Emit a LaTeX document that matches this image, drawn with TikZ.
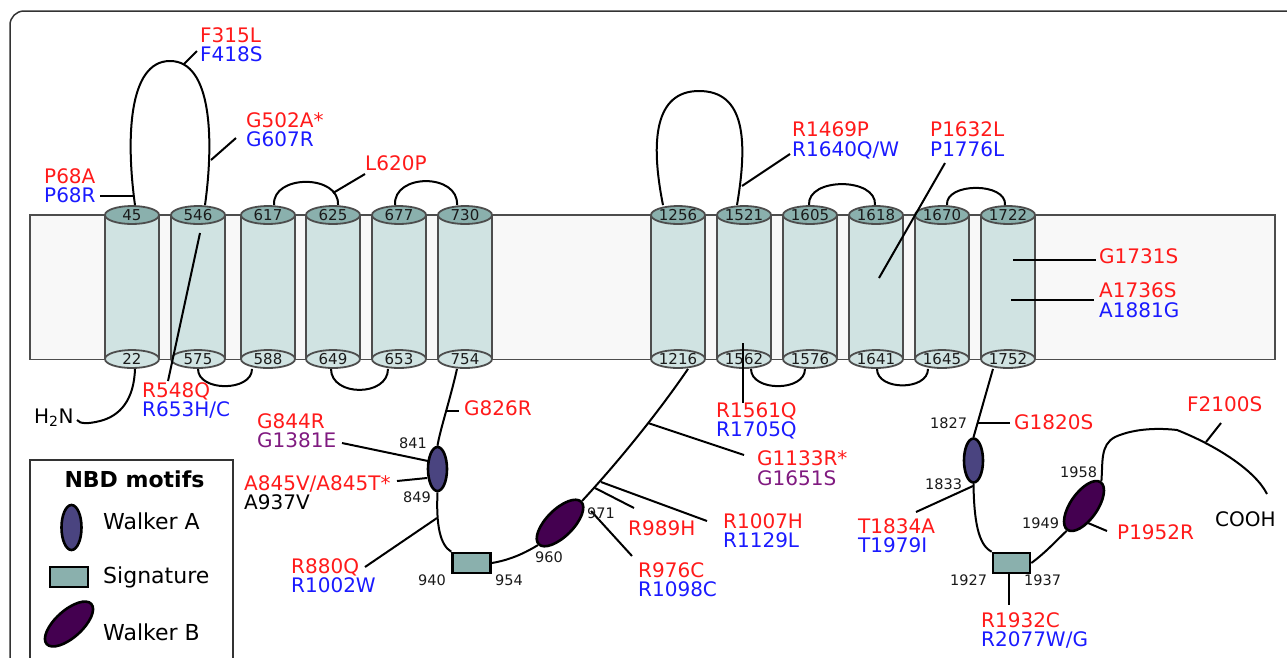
\documentclass[tikz,border=0pt]{standalone}
\usepackage{fontspec}
\setmainfont{DejaVu Sans}
\usetikzlibrary{shapes.geometric,positioning}

\definecolor{mred}{RGB}{255,26,26}
\definecolor{mblue}{RGB}{26,26,255}
\definecolor{mpurple}{RGB}{128,26,128}
\definecolor{numgray}{RGB}{26,26,26}
\definecolor{framecol}{RGB}{51,51,51}
\definecolor{tmline}{RGB}{77,77,77}
\definecolor{tmbody}{RGB}{208,227,226}
\definecolor{tmcap}{RGB}{138,176,173}
\definecolor{memfill}{RGB}{248,248,248}
\definecolor{wacol}{RGB}{74,68,128}
\definecolor{wbcol}{RGB}{68,0,80}
\definecolor{sigcol}{RGB}{138,176,173}

\begin{document}
\begin{tikzpicture}[
        x=1pt, y=-1pt,
        membrane/.style={
          draw=tmline,
          fill=memfill,
          line width=1.8pt
          },
        tmside/.style={draw=tmline, line width=1.8pt},
        tmtop/.style={
          ellipse,
          draw=tmline,
          fill=tmcap,
          line width=1.8pt,
          minimum width=54pt,
          minimum height=18pt,
          inner sep=0pt,
          text=numgray,
          font=\fontsize{15}{18}\selectfont
          },
        tmbot/.style={tmtop, fill=tmbody},
        backbone/.style={draw=black, line width=2pt},
        mline/.style={draw=black, line width=2pt},
        walkerA/.style={
          ellipse,
          draw=black,
          line width=2.6pt,
          fill=wacol,
          minimum width=19pt,
          minimum height=44pt,
          inner sep=0pt
          },
        walkerB/.style={
          ellipse,
          draw=black,
          line width=2.6pt,
          fill=wbcol,
          minimum width=60pt,
          minimum height=27pt,
          inner sep=0pt
          },
        signature/.style={
          rectangle,
          draw=black,
          line width=2.6pt,
          fill=sigcol,
          minimum width=38pt,
          minimum height=20pt,
          inner sep=0pt
          },
        mut/.style={font=\fontsize{20}{24}\selectfont, inner sep=0pt, anchor=base west},
        num/.style={font=\fontsize{14.5}{17}\selectfont, inner sep=0pt, anchor=base west, text=numgray},
        legtext/.style={font=\fontsize{22}{26}\selectfont, inner sep=0pt, anchor=base west}
        ]
        \useasboundingbox (0,0) rectangle (1287,657);
        \clip (0,0) rectangle (1287,657);
        \draw[framecol, line width=1.5pt, rounded corners=14pt] (10,11) rectangle (1320,690);

        % membrane and helices
        \draw[membrane] (30,215) rectangle (1275,359.5);
        \foreach \cx/\up/\dn [count=\i] in {132/45/22, 198/546/575, 268/617/588, 333/625/649,
            399/677/653, 465/730/754, 678/1256/1216, 744/1521/1562, 810/1605/1576,
            876/1618/1641, 942/1670/1645, 1008/1722/1752}
        {
          \fill[tmbody] (\cx-27,215) rectangle (\cx+27,359);
          \draw[tmside] (\cx-27,215) -- (\cx-27,359) (\cx+27,215) -- (\cx+27,359);
          \node[tmbot] (b\i) at (\cx,359) {\dn};
          \node[tmtop] (t\i) at (\cx,215) {\up};
        }

        % loops outside and inside
        \draw[backbone] ([xshift=3pt]t1.north) .. controls (126,140) and (128,61) .. (170,61)
            .. controls (212,61) and (214,140) .. ([xshift=7pt]t2.north);
        \draw[backbone] ([xshift=-15pt]t7.north) .. controls (650,140) and (655,91) .. (699,91)
            .. controls (745,91) and (748,140) .. ([xshift=-7pt]t8.north);
        \foreach \a/\b/\sa/\sb/\h in {3/4/6pt/5pt/31, 5/6/-4pt/-8pt/32, 9/10/-1pt/-1pt/28, 11/12/5pt/-3pt/23}
          \draw[backbone] ([xshift=\sa]t\a.north) .. controls +(-2,-\h) and +(2,-\h) .. ([xshift=\sb]t\b.north);
        \foreach \a/\b/\sa/\sb/\h in {2/3/0pt/-16pt/23, 4/5/-2pt/-11pt/28, 8/9/7pt/-5pt/23, 10/11/1pt/-14pt/22}
          \draw[backbone] ([xshift=\sa]b\a.south) .. controls +(0,\h) and +(0,\h) .. ([xshift=\sb]b\b.south);

        % NBD motifs
        \node[walkerA] (wa1) at (437.5,469) {};
        \node[signature] (sg1) at (471.5,563) {};
        \node[walkerB, rotate=45] (wb1) at (560,523) {};
        \node[walkerA] (wa2) at (973.5,460.5) {};
        \node[signature, minimum width=37pt] (sg2) at (1011.5,563) {};
        \node[walkerB, rotate=55, minimum width=58pt] (wb2) at (1084,506) {};

        \coordinate (nend) at (77,420);
        \coordinate (cend) at (1267,494);
        \draw[backbone] ([xshift=3pt]b1.south) .. controls (134,400) and (120,416) .. (100,421)
            .. controls (88,424) and (80,424) .. (nend);
        \draw[backbone] ([xshift=-8pt]b6.south) .. controls (450,400) and (440,430) .. (wa1.north);
        \draw[backbone] (wa1.south) .. controls (436,525) and (440,545) .. (sg1.north west);
        \draw[backbone] (sg1.east) .. controls (510,560) and (525,553) .. (wb1.west);
        \draw[backbone] (wb1.east) .. controls (620,460) and (660,410) .. ([xshift=10pt]b7.south);
        \draw[backbone] ([xshift=-15pt]b12.south) -- (wa2.north);
        \draw[backbone] (wa2.south) .. controls (974,520) and (978,545) .. (sg2.north west);
        \draw[backbone] (sg2.east) .. controls (1045,553) and (1055,542) .. (wb2.west);
        \draw[backbone] (wb2.east) .. controls (1103,462) and (1100,445) .. (1115,437)
            .. controls (1135,428) and (1160,428) .. (1177,430)
            .. controls (1215,445) and (1255,470) .. (cend);

        % mutation sites
        \coordinate (m315) at (184,64);   \coordinate (e315) at (197,51);
        \coordinate (m502) at (211,160);  \coordinate (e502) at (236,138);
        \coordinate (m68) at (134,196);   \coordinate (e68) at (100,196);
        \coordinate (m620) at (333,193);  \coordinate (e620) at (365,174);
        \coordinate (m548) at (200,233);  \coordinate (e548) at (168,381);
        \coordinate (m826) at (447,411);  \coordinate (e826) at (459,411);
        \coordinate (m844) at (428,461);  \coordinate (e844) at (342,443);
        \coordinate (m845) at (427,478);  \coordinate (e845) at (397,481);
        \coordinate (m880) at (437,518);  \coordinate (e880) at (365,567);
        \coordinate (m1133) at (648,423); \coordinate (e1133) at (744,455);
        \coordinate (m1007) at (601,482); \coordinate (e1007) at (707,521);
        \coordinate (m989) at (595,488);  \coordinate (e989) at (634,508);
        \coordinate (m976) at (591,511);  \coordinate (e976) at (632,556);
        \coordinate (m1561) at (743,343); \coordinate (e1561) at (743,403);
        \coordinate (m1469) at (742,186); \coordinate (e1469) at (790,154);
        \coordinate (m1632) at (879,278); \coordinate (e1632) at (945,163);
        \coordinate (m1731) at (1013,260); \coordinate (e1731) at (1096,260);
        \coordinate (m1736) at (1011,300); \coordinate (e1736) at (1094,300);
        \coordinate (m1820) at (977,423); \coordinate (e1820) at (1010,423);
        \coordinate (m1834) at (973,486); \coordinate (e1834) at (916,512);
        \coordinate (m1952) at (1088,523); \coordinate (e1952) at (1107,531);
        \coordinate (m1932) at (1009,574); \coordinate (e1932) at (1009,605);
        \coordinate (m2100) at (1206,442); \coordinate (e2100) at (1221,423);
        \foreach \n in {315,502,68,620,548,826,844,845,880,1133,1007,989,976,1561,
            1469,1632,1731,1736,1820,1834,1952,1932,2100}
          \draw[mline] (m\n) -- (e\n);

        % labels
        \node[mut, text=mred] (F315L) at (200,42) {F315L};
        \node[mut, text=mblue] (F418S) at ([yshift=-19.5pt]F315L.base west) {F418S};
        \node[mut, text=mred] (G502A) at (246,127) {G502A*};
        \node[mut, text=mblue] (G607R) at ([yshift=-19.5pt]G502A.base west) {G607R};
        \node[mut, text=mred] (P68A) at (44,183) {P68A};
        \node[mut, text=mblue] (P68R) at ([yshift=-19.5pt]P68A.base west) {P68R};
        \node[mut, text=mred] (L620P) at (365,170) {L620P};
        \node[mut, text=mred] (R548Q) at (142,397) {R548Q};
        \node[mut, text=mblue] (R653H) at ([yshift=-19.5pt]R548Q.base west) {R653H/C};
        \node[mut] (H2N) at (34,423) {H\textsubscript{2}N};
        \node[mut, text=mred] (G844R) at (257,428) {G844R};
        \node[mut, text=mpurple] (G1381E) at ([yshift=-19.5pt]G844R.base west) {G1381E};
        \node[mut, text=mred] (A845V) at (244,490) {A845V/A845T*};
        \node[mut] (A937V) at ([yshift=-19.5pt]A845V.base west) {A937V};
        \node[mut, text=mred] (G826R) at (464,415) {G826R};
        \node[mut, text=mred] (R880Q) at (291,573) {R880Q};
        \node[mut, text=mblue] (R1002W) at ([yshift=-19.5pt]R880Q.base west) {R1002W};
        \node[mut, text=mred] (R989H) at (628,535) {R989H};
        \node[mut, text=mred] (R1007H) at (723,528) {R1007H};
        \node[mut, text=mblue] (R1129L) at ([yshift=-19.5pt]R1007H.base west) {R1129L};
        \node[mut, text=mred] (R976C) at (638,577) {R976C};
        \node[mut, text=mblue] (R1098C) at ([yshift=-19.5pt]R976C.base west) {R1098C};
        \node[mut, text=mred] (G1133R) at (757,465) {G1133R*};
        \node[mut, text=mpurple] (G1651S) at ([yshift=-20pt]G1133R.base west) {G1651S};
        \node[mut, text=mred] (R1561Q) at (716,417) {R1561Q};
        \node[mut, text=mblue] (R1705Q) at ([yshift=-19.5pt]R1561Q.base west) {R1705Q};
        \node[mut, text=mred] (T1834A) at (858,533) {T1834A};
        \node[mut, text=mblue] (T1979I) at ([yshift=-19.5pt]T1834A.base west) {T1979I};
        \node[mut, text=mred] (R1469P) at (792,136) {R1469P};
        \node[mut, text=mblue] (R1640Q) at ([yshift=-20pt]R1469P.base west) {R1640Q/W};
        \node[mut, text=mred] (P1632L) at (930,136) {P1632L};
        \node[mut, text=mblue] (P1776L) at ([yshift=-20pt]P1632L.base west) {P1776L};
        \node[mut, text=mred] (G1731S) at (1099,263) {G1731S};
        \node[mut, text=mred] (A1736S) at (1099,297) {A1736S};
        \node[mut, text=mblue] (A1881G) at ([yshift=-20pt]A1736S.base west) {A1881G};
        \node[mut, text=mred] (G1820S) at (1014,429) {G1820S};
        \node[mut, text=mred] (P1952R) at (1117,539) {P1952R};
        \node[mut, text=mred] (R1932C) at (981,627) {R1932C};
        \node[mut, text=mblue] (R2077W) at ([yshift=-19.5pt]R1932C.base west) {R2077W/G};
        \node[mut, text=mred] (F2100S) at (1187,411) {F2100S};
        \node[mut] (COOH) at (1215,526) {COOH};

        % residue numbers
        \foreach \x/\y/\r in {399/448/841, 403/502/849, 418/585/940, 495/585/954, 535/562/960,
            587/518/971, 930/428/1827, 925/489/1833, 950/585/1927, 1024/585/1937,
            1022/528/1949, 1060/477/1958}
          \node[num] (r\r) at (\x,\y) {\r};

        % legend
        \draw[framecol, line width=2pt] (30,460) rectangle (233,700);
        \node[font=\bfseries\fontsize{22}{26}\selectfont, inner sep=0pt, anchor=base] (legtitle) at (134.5,487) {NBD motifs};
        \node[walkerA, minimum width=20pt, minimum height=45pt] (lwa) at (71.5,527.5) {};
        \node[legtext] (lwatext) at (103,529) {Walker A};
        \node[signature] (lsg) at (69,577) {};
        \node[legtext] (lsgtext) at (103,583) {Signature};
        \node[walkerB, rotate=42] (lwb) at (69,624) {};
        \node[legtext] (lwbtext) at (103,640) {Walker B};
\end{tikzpicture}
\end{document}
